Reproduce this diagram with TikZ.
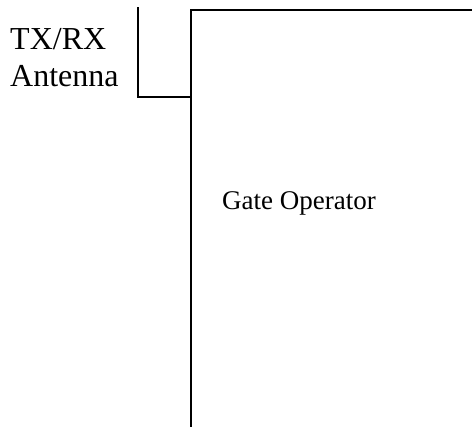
\documentclass[tikz,border=0pt]{standalone}
\usepackage{fontspec}
\setmainfont{Liberation Serif}
\begin{document}
\begin{tikzpicture}[x=1pt,y=1pt,
  wire/.style={line width=1.3pt,line cap=rect},
  bigtxt/.style={inner sep=0pt,anchor=base west,align=left,font=\fontsize{32}{37}\selectfont},
  midtxt/.style={inner sep=0pt,anchor=base west,font=\fontsize{27}{32}\selectfont}]
\useasboundingbox (0,0) rectangle (472,427);
\node[bigtxt] (ant) at (10,340) {TX/RX\\Antenna};
\node[midtxt] (gate) at (222,217) {Gate Operator};
\coordinate (antTop) at (138,419);
\coordinate (antCorner) at (138,330);
\coordinate (join) at (191,330);
\coordinate (boxBottom) at (191,0);
\coordinate (boxCorner) at (191,417);
\coordinate (boxRight) at (471,417);
\draw[wire] (antTop) -- (antCorner) -- (join);
\draw[wire] (boxBottom) -- (boxCorner) -- (boxRight);
\end{tikzpicture}
\end{document}
